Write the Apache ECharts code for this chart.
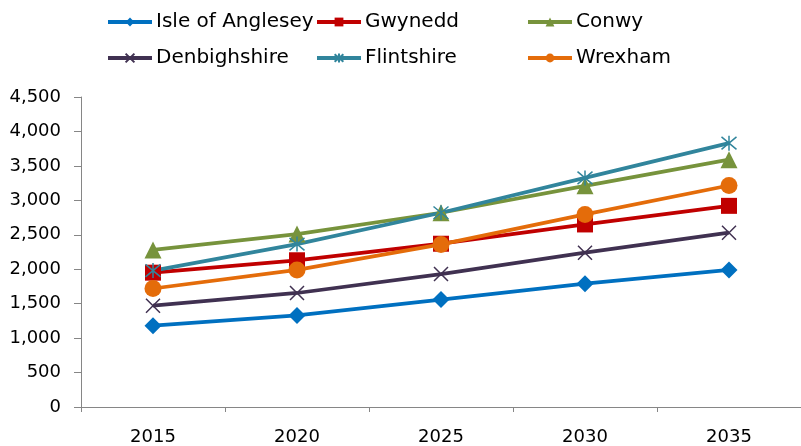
<!DOCTYPE html>
<html>
<head>
<meta charset="utf-8">
<script src="https://cdn.jsdelivr.net/npm/echarts@6/dist/echarts.min.js"></script>
<style>
  html, body { margin: 0; padding: 0; background: #fff; }
  #main { width: 801px; height: 446px; }
</style>
</head>
<body>
<div id="main"></div>
<script>
var years = ['2015', '2020', '2025', '2030', '2035'];
var angleseyData = [1180, 1330, 1560, 1790, 1990];
var gwyneddData = [1950, 2130, 2370, 2650, 2920];
var conwyData = [2280, 2510, 2820, 3210, 3590];
var denbighData = [1470, 1655, 1930, 2240, 2530];
var flintData = [1980, 2365, 2820, 3325, 3830];
var wrexhamData = [1720, 1990, 2360, 2795, 3215];
var yTicks = [0, 500, 1000, 1500, 2000, 2500, 3000, 3500, 4000, 4500];

var fontName = 'DejaVu Sans';
var crossPath = 'path://M0,0L10,10M10,0L0,10';
var starPath = 'path://M0,0L10,10M10,0L0,10M5,-1L5,11';

var seriesDefs = [
  {name: 'Isle of Anglesey', data: angleseyData, color: '#0070C0', symbol: 'diamond', size: 17, left: 106, top: 12},
  {name: 'Gwynedd', data: gwyneddData, color: '#C00000', symbol: 'rect', size: 16, left: 315, top: 12},
  {name: 'Conwy', data: conwyData, color: '#77933C', symbol: 'triangle', size: 17, left: 526, top: 12},
  {name: 'Denbighshire', data: denbighData, color: '#403151', symbol: crossPath, size: 14, left: 106, top: 48},
  {name: 'Flintshire', data: flintData, color: '#31859C', symbol: starPath, size: 15, left: 315, top: 48},
  {name: 'Wrexham', data: wrexhamData, color: '#E46C0A', symbol: 'circle', size: 17, left: 526, top: 48}
];

var legends = [];
var series = [];
seriesDefs.forEach(function (d) {
  var isStroke = d.symbol.indexOf('path://') === 0;
  legends.push({
    data: [d.name],
    left: d.left,
    top: d.top,
    padding: 0,
    itemWidth: 44,
    itemHeight: 11,
    itemGap: 4,
    lineStyle: {width: 4},
    textStyle: {fontFamily: fontName, fontSize: 20, color: '#000', padding: [0, 0, 0, -1]}
  });
  series.push({
    name: d.name,
    type: 'line',
    data: d.data,
    symbol: d.symbol,
    symbolSize: d.size,
    showAllSymbol: true,
    lineStyle: {color: d.color, width: 3.75},
    itemStyle: {
      color: d.color,
      borderColor: d.color,
      borderWidth: isStroke ? 1.5 : 0
    },
    emphasis: {disabled: true}
  });
});

var myChart = echarts.init(document.getElementById('main'));
var option = {
  animation: false,
  legend: legends,
  grid: {left: 81, top: 97, right: -5, bottom: 38, containLabel: false},
  xAxis: {
    type: 'category',
    data: years,
    boundaryGap: true,
    axisLine: {lineStyle: {color: '#868686', width: 1}},
    axisTick: {show: true, length: 5, inside: false, lineStyle: {color: '#868686'}},
    axisLabel: {fontFamily: fontName, fontSize: 18, color: '#000', margin: 21},
    splitLine: {show: false}
  },
  yAxis: {
    type: 'value',
    min: 0,
    max: 4500,
    interval: 500,
    axisLine: {show: true, lineStyle: {color: '#868686', width: 1}},
    axisTick: {show: true, length: 7, lineStyle: {color: '#868686'}},
    axisLabel: {
      fontFamily: fontName,
      fontSize: 18,
      color: '#000',
      margin: 20,
      formatter: function (v) {
        return yTicks.indexOf(v) >= 0 ? v.toLocaleString('en-US') : '';
      }
    },
    splitLine: {show: false}
  },
  series: series
};
myChart.setOption(option);
</script>
</body>
</html>
